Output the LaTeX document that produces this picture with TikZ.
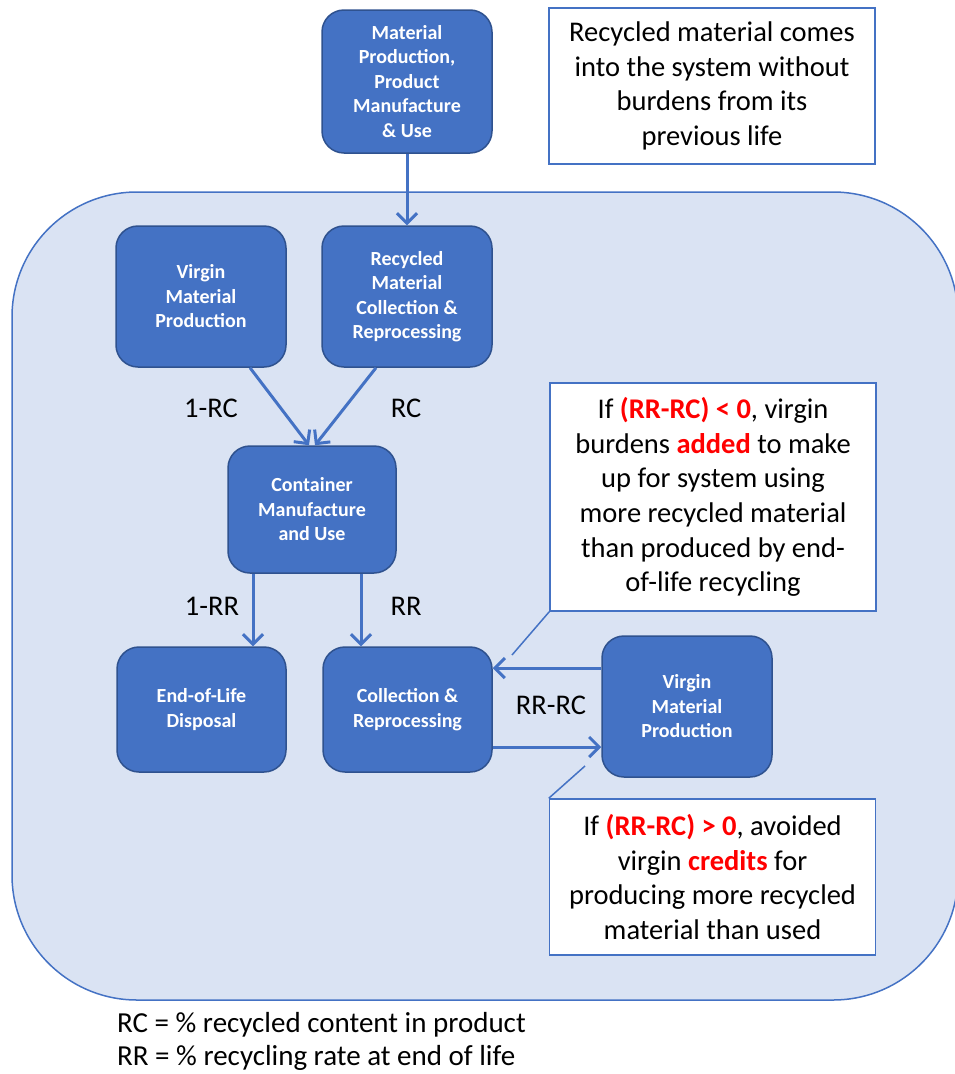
\documentclass[tikz,border=0pt]{standalone}
\usepackage{fontspec}
\setmainfont{Carlito}
\usetikzlibrary{arrows.meta,calc}
\definecolor{boxblue}{HTML}{4472C4}
\definecolor{boxline}{HTML}{2F528F}
\definecolor{regionfill}{HTML}{DAE3F3}
\definecolor{hotred}{HTML}{FF0000}

\begin{document}
\begin{tikzpicture}
	[x=1pt, y=-1pt,
	block/.style={draw=boxline, line width=1.5pt, fill=boxblue, rounded corners=22pt,
		text=white, align=center, minimum width=170pt, minimum height=141pt,
		inner sep=0pt, font=\fontsize{20}{24.5}\selectfont\bfseries},
	note/.style={draw=boxblue, line width=1.5pt, fill=white, align=center,
		minimum width=326pt, inner sep=0pt, font=\fontsize{28.5}{34.7}\selectfont},
	lbl/.style={inner sep=0pt, font=\fontsize{28.5}{34.7}\selectfont},
	flow/.style={draw=boxblue, line width=3pt, -{Straight Barb[length=10pt,width=20pt]}},
	tail/.style={draw=boxblue, line width=1.5pt}]
	\useasboundingbox (0,0) rectangle (954,1074);
	\draw[draw=boxblue, line width=1.5pt, fill=regionfill, rounded corners=125pt] (12,192) rectangle (958,1000);

	\node (top)     [block] at (407,81.5) [minimum height=143pt] {Material\\Production,\\Product\\Manufacture\\\& Use};
	\node (virgin1) [block] at (201,296.5) {Virgin\\Material\\Production};
	\node (recyc)   [block] at (407,296.5) {Recycled\\Material\\Collection \&\\Reprocessing};
	\node (cont)    [block] at (312,509.5) [minimum width=168pt, minimum height=127pt] {Container\\Manufacture\\and Use};
	\node (eol)     [block] at (201.5,709.5) [minimum width=169pt, minimum height=125pt] {End-of-Life\\Disposal};
	\node (coll)    [block] at (407.5,709.5) [minimum width=169pt, minimum height=125pt] {Collection \&\\Reprocessing};
	\node (virgin2) [block] at (687,706.5) {Virgin\\Material\\Production};

	\node (intro) [note] at (712,86) [minimum height=156pt] {Recycled material comes\\into the system without\\burdens from its\\previous life};
	\node (note1) [note] at (713,497) [minimum height=228pt] {If \textcolor{hotred}{\textbf{(RR-RC) < 0}}, virgin\\burdens \textcolor{hotred}{\textbf{added}} to make\\up for system using\\more recycled material\\than produced by end-\\of-life recycling};
	\node (note2) [note] at (712.5,877) [minimum height=156pt] {If \textcolor{hotred}{\textbf{(RR-RC) > 0}}, avoided\\virgin \textcolor{hotred}{\textbf{credits}} for\\producing more recycled\\material than used};
	\coordinate (tip1) at (512,655);
	\coordinate (tip2) at (585,766);

	\draw[flow] (top) -- (recyc);
	\draw[flow] ($(virgin1.south)+(49,0)$) -- ($(cont.north)+(-3,0)$);
	\draw[flow] ($(recyc.south)+(-31,0)$) -- ($(cont.north)+(3,0)$);
	\draw[flow] ($(cont.south)+(-59,0)$) -- ($(eol.north)+(51.5,0)$);
	\draw[flow] ($(cont.south)+(49,0)$) -- ($(coll.north)+(-46.5,0)$);
	\draw[flow] ($(virgin2.west)+(0,-38.5)$) -- ($(coll.east)+(0,-41.5)$);
	\draw[flow] ($(coll.east)+(0,37.5)$) -- ($(virgin2.west)+(0,40.5)$);
	\draw[tail] (note1.south west) -- (tip1);
	\draw[tail] (note2.north west) -- (tip2);

	\node (l1rc) [lbl] at (211,408) {1-RC};
	\node (lrc)  [lbl] at (406,408) {RC};
	\node (l1rr) [lbl] at (212,606) {1-RR};
	\node (lrr)  [lbl] at (406,606) {RR};
	\node (lrrrc) [lbl] at (551,705) {RR-RC};

	\node (key1) [lbl, anchor=west, font=\fontsize{29}{34.7}\selectfont] at (117,1025) {RC = \% recycled content in product};
	\node (key2) [lbl, anchor=west, font=\fontsize{29}{34.7}\selectfont] at (117,1058) {RR = \% recycling rate at end of life};
\end{tikzpicture}
\end{document}
